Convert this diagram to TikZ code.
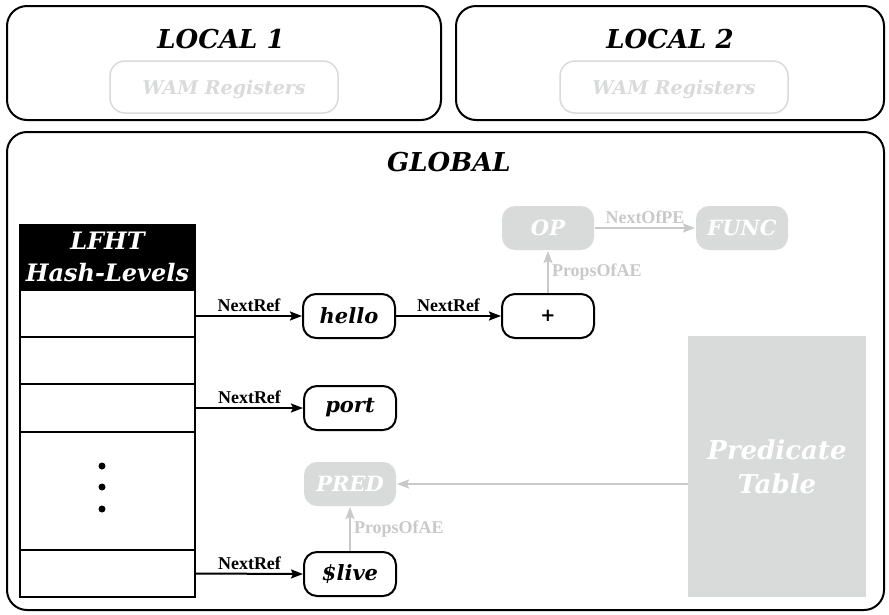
\documentclass[tikz,border=0pt]{standalone}
\usepackage{fontspec}
\newfontfamily\boxfont{DejaVu Serif}
\newfontfamily\reffont{Liberation Serif}
\newfontfamily\plusfont{DejaVu Sans}
\usetikzlibrary{arrows.meta}
\definecolor{shade}{RGB}{217,218,218}
\definecolor{faint}{RGB}{200,201,201}

\begin{document}
\begin{tikzpicture}
[
x=1pt, y=-1pt,
area/.style={
% The shape:
rectangle,
rounded corners=20pt,
% The border:
line width=2pt,
draw=black,
inner sep=0pt,
},
title/.style={
font=\boxfont\bfseries\itshape\fontsize{26}{30}\selectfont,
},
regs/.style={
% The shape:
rectangle,
rounded corners=15pt,
minimum width=228pt,
minimum height=52pt,
% The border:
line width=1.5pt,
draw=shade,
% The text:
text=shade,
text depth=0pt,
font=\boxfont\bfseries\itshape\fontsize{19}{22}\selectfont,
},
atom/.style={
% The shape:
rectangle,
rounded corners=13pt,
minimum width=92pt,
minimum height=44pt,
inner sep=0pt,
% The border:
line width=2pt,
draw=black,
font=\boxfont\bfseries\itshape\fontsize{21}{24}\selectfont,
},
prop/.style={
atom,
draw=none,
fill=shade,
text=white,
},
cell/.style={
rectangle,
minimum width=175pt,
inner sep=0pt,
line width=2pt,
draw=black,
},
ref/.style={
-{Stealth[length=12pt, width=9pt, inset=2pt]},
line width=2pt,
},
faintref/.style={
ref,
draw=faint,
},
reflabel/.style={
font=\reffont\bfseries\fontsize{18}{20}\selectfont,
inner sep=3pt,
}
]
    \useasboundingbox (0,0) rectangle (889,614);
    % the three memory areas
    \node[area, minimum width=434pt, minimum height=114pt] (local1) at (224,63) {};
    \node[area, minimum width=428pt, minimum height=114pt] (local2) at (670,63) {};
    \node[area, minimum width=877pt, minimum height=478pt] (global) at (445.5,371) {};
    \node[title] (t1) at (221,39) {LOCAL 1};
    \node[title] (t2) at (670,39) {LOCAL 2};
    \node[title] (tg) at (449,162) {GLOBAL};
    \node[regs] (regs1) at (224,87) {WAM Registers};
    \node[regs] (regs2) at (674,87) {WAM Registers};
    % hash levels
    \node[fill=black, text=white, minimum width=177pt, minimum height=66pt, inner sep=0pt, align=center,
      font=\boxfont\bfseries\itshape\fontsize{24}{32}\selectfont] (head) at (107.5,257) {LFHT\\Hash-Levels};
    \node[cell, minimum height=47pt] (c1) at (107.5,313.5) {};
    \node[cell, minimum height=47pt] (c2) at (107.5,360.5) {};
    \node[cell, minimum height=48pt] (c3) at (107.5,408) {};
    \node[cell, minimum height=118pt] (c4) at (107.5,491) {};
    \node[cell, minimum height=47pt] (c5) at (107.5,573.5) {};
    \foreach \y in {466,487,509}
      \fill (102,\y) circle (3.5pt);
    % atoms
    \node[atom] (hello) at (349,316) {hello};
    \node[atom, font=\plusfont\bfseries\fontsize{18}{20}\selectfont] (plus) at (548,316) {+};
    \node[atom] (port) at (350,408) {port};
    \node[atom] (live) at (350,574) {\$live};
    % properties
    \node[prop] (op) at (548,228) {OP};
    \node[prop] (func) at (742,228) {FUNC};
    \node[prop] (pred) at (350,484) {PRED};
    \node[fill=shade, minimum width=178pt, minimum height=261pt, align=center, text=white,
      font=\boxfont\bfseries\itshape\fontsize{26}{34}\selectfont] (ptable) at (777,466.5) {Predicate\\Table};
    \draw[ref] (c1.east |- hello) -- node[reflabel, above] {NextRef} (hello.west);
    \draw[ref] (hello.east) -- node[reflabel, above] {NextRef} (plus.west);
    \draw[ref] (c3.east) -- node[reflabel, above] {NextRef} (port.west);
    \draw[ref] (c5.east) -- node[reflabel, above] {NextRef} (live.west);
    \draw[faintref] (plus.north) -- node[reflabel, right, text=faint] {PropsOfAE} (op.south);
    \draw[faintref] (op.east) -- node[reflabel, above, text=faint] {NextOfPE} (func.west);
    \draw[faintref] (live.north) -- node[reflabel, right, text=faint] {PropsOfAE} (pred.south);
    \draw[faintref] (ptable.west |- pred) -- (pred.east);
\end{tikzpicture}
\end{document}
